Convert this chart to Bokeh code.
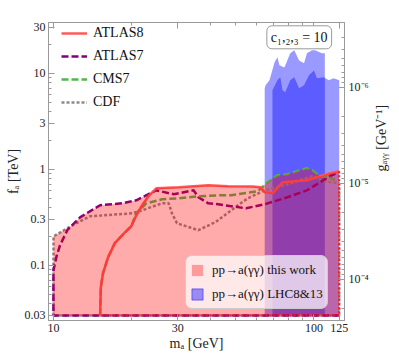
import math
import numpy as np
from bokeh.plotting import figure
from bokeh.models import (Range1d, LogAxis, LogScale, FixedTicker, CustomJSTickFormatter,
                          Legend, LegendItem, Label)
from bokeh.embed import file_html
from bokeh.resources import INLINE

# ---------------- data (m_a in GeV, f_a in TeV) ----------------
atlas8_m = [15.1, 15.2, 15.5, 16.2, 17.2, 18.7, 19.9, 20.8, 21.9, 23.3, 24.8, 30.3, 39.3,
            46.8, 58.2, 62.4, 64.7, 69.3, 75.7, 94.0, 115.0, 125.0]
atlas8_f = [0.03, 0.059, 0.083, 0.121, 0.170, 0.216, 0.255, 0.332, 0.422, 0.536, 0.634, 0.649,
            0.681, 0.665, 0.660, 0.649, 0.576, 0.562, 0.732, 0.768, 0.909, 0.953]

atlas7_m = [10.0, 10.0, 10.3, 10.6, 11.3, 12.65, 15.1, 18.4, 20.8, 24.8, 29.0, 34.5, 36.0,
            39.3, 42.9, 54.8, 64.7, 79.0, 94.0, 115.0, 122.0]
atlas7_f = [0.03, 0.089, 0.127, 0.162, 0.232, 0.316, 0.422, 0.442, 0.475, 0.604, 0.549, 0.604,
            0.511, 0.442, 0.432, 0.392, 0.432, 0.511, 0.604, 0.846, 0.909]

cms7_m = [15.1, 15.2, 15.5, 16.2, 17.2, 18.7, 19.9, 20.8, 22.7, 26.1, 30.3, 36.0, 42.9, 48.1,
          60.8, 66.4, 72.4, 79.0, 94.0, 98.3, 105.4, 115.0, 120.2]
cms7_f = [0.03, 0.059, 0.083, 0.121, 0.170, 0.216, 0.255, 0.348, 0.442, 0.487, 0.499, 0.523,
          0.536, 0.536, 0.590, 0.732, 0.866, 0.887, 1.024, 0.976, 0.846, 0.825, 0.768]

cdf_m = [10.0, 10.0, 11.8, 13.8, 20.1, 21.9, 26.1, 27.7, 28.5, 29.8, 36.0, 41.8, 48.1, 55.7,
         64.7, 79.0, 98.3, 110.1, 125.0]
cdf_f = [0.03, 0.2, 0.261, 0.324, 0.348, 0.374, 0.442, 0.442, 0.348, 0.274, 0.232, 0.281,
         0.374, 0.499, 0.604, 0.698, 0.846, 0.750, 0.715]

# LHC 8 & 13 TeV diphoton bounds (upper edges, two overlapping bands)
lhc_a_m = [64.7, 65.2, 67.5, 70.6, 72.4, 73.7, 77.0, 81.1, 84.0, 87.7, 91.6, 94.0, 98.3,
           100.9, 107.2, 110.1]
lhc_a_f = [7.0, 7.5, 8.45, 13.0, 14.7, 12.1, 11.5, 16.2, 17.4, 13.6, 12.7, 16.2, 17.4,
           17.4, 16.2, 16.2]
lhc_b_m = [69.3, 72.4, 74.3, 75.7, 77.6, 81.1, 84.0, 87.7, 91.6, 95.7, 100.0, 102.7, 109.1,
           114.0, 119.0, 125.0]
lhc_b_f = [6.65, 8.45, 9.09, 6.65, 6.34, 8.45, 9.09, 6.98, 7.5, 9.53, 10.7, 8.87, 9.09,
           8.45, 8.87, 8.45]

F_BOTTOM = 0.03           # lower edge of the scanned region [TeV]
M_LO, M_HI = 10.0, 125.0  # mass range of the scan [GeV]
G_PER_FA = 7.15e-6        # g_agg [GeV^-1] times f_a [TeV]

X_MIN, X_MAX = 9.57, 131.0
Y_MIN, Y_MAX = 0.0266, 33.8

x_major = [10, 30, 100, 125]
x_minor = [20, 40, 50, 60, 70, 80, 90]
y_major = [0.03, 0.1, 0.3, 1, 3, 10, 30]
y_minor = [0.04, 0.05, 0.06, 0.07, 0.08, 0.09, 0.2, 0.4, 0.5, 0.6, 0.7, 0.8, 0.9,
           2, 4, 5, 6, 7, 8, 9, 20]
g_major = [1e-6, 1e-5, 1e-4]
g_minor = [3e-7, 4e-7, 5e-7, 6e-7, 7e-7, 8e-7, 9e-7, 2e-6, 3e-6, 4e-6, 5e-6, 6e-6, 7e-6,
           8e-6, 9e-6, 2e-5, 3e-5, 4e-5, 5e-5, 6e-5, 7e-5, 8e-5, 9e-5, 2e-4]

# ---------------- envelope of all bounds ("this work") ----------------
def log_interp(mq, m, f):
    return np.exp(np.interp(np.log(mq), np.log(m), np.log(f), left=-np.inf, right=-np.inf))

grid = np.unique(np.concatenate([np.geomspace(M_LO, M_HI, 600), atlas8_m, atlas7_m[1:],
                                 cms7_m, cdf_m[1:]]))
grid = grid[(grid >= M_LO) & (grid <= M_HI)]
env = np.max(np.vstack([log_interp(grid, atlas8_m, atlas8_f),
                        log_interp(grid, atlas7_m[1:], atlas7_f[1:]),
                        log_interp(grid, cms7_m, cms7_f),
                        log_interp(grid, cdf_m[1:], cdf_f[1:])]), axis=0)
fill_x = [M_LO] + list(grid) + [M_HI]
fill_y = [F_BOTTOM] + list(env) + [F_BOTTOM]

# ---------------- figure ----------------
SERIF = "Liberation Serif"
FRAME = "#9a9a9a"

p = figure(width=399, height=360, x_axis_type="log", y_axis_type="log",
           x_range=Range1d(X_MIN, X_MAX), y_range=Range1d(Y_MIN, Y_MAX),
           output_backend="svg", toolbar_location=None,
           min_border_left=48, min_border_right=51, min_border_top=22, min_border_bottom=40)
p.grid.visible = False
p.outline_line_color = FRAME
p.background_fill_color = "white"

p.extra_y_ranges = {"g": Range1d(G_PER_FA / Y_MIN, G_PER_FA / Y_MAX)}
p.extra_y_scales = {"g": LogScale()}

def style_axis(ax):
    ax.axis_line_color = FRAME
    ax.major_tick_line_color = FRAME
    ax.minor_tick_line_color = FRAME
    ax.major_tick_in = 6
    ax.major_tick_out = 0
    ax.minor_tick_in = 3
    ax.minor_tick_out = 0
    ax.major_label_text_font = SERIF
    ax.major_label_text_font_size = "12px"
    ax.major_label_text_color = "#222222"
    ax.axis_label_text_font = SERIF
    ax.axis_label_text_font_size = "14px"
    ax.axis_label_text_font_style = "normal"
    ax.axis_label_text_color = "#222222"

xb = p.xaxis[0]
xb.ticker = FixedTicker(ticks=x_major, minor_ticks=x_minor)
xb.formatter = CustomJSTickFormatter(code="return tick.toString();")
xb.axis_label = "mₐ [GeV]"
xb.major_label_standoff = 3
xb.axis_label_standoff = 1
style_axis(xb)

yl = p.yaxis[0]
yl.ticker = FixedTicker(ticks=y_major, minor_ticks=y_minor)
yl.formatter = CustomJSTickFormatter(code="return tick.toString();")
yl.axis_label = "fₐ [TeV]"
yl.major_label_standoff = 3
yl.axis_label_standoff = 1
style_axis(yl)

xt = LogAxis(ticker=FixedTicker(ticks=x_major, minor_ticks=x_minor),
             formatter=CustomJSTickFormatter(code="return '';"))
style_axis(xt)
xt.major_label_standoff = 0
p.add_layout(xt, "above")

sup_code = """
const e = Math.round(Math.log10(tick));
const sup = {"-": "\\u207b", "0": "\\u2070", "1": "\\u00b9", "2": "\\u00b2", "3": "\\u00b3",
             "4": "\\u2074", "5": "\\u2075", "6": "\\u2076", "7": "\\u2077", "8": "\\u2078", "9": "\\u2079"};
return "10" + String(e).split("").map(c => sup[c]).join("");
"""
yr = LogAxis(y_range_name="g", ticker=FixedTicker(ticks=g_major, minor_ticks=g_minor),
             formatter=CustomJSTickFormatter(code=sup_code))
style_axis(yr)
yr.major_label_standoff = 4
yr.axis_label = "gₐᵧᵧ [GeV⁻¹]"
yr.axis_label_standoff = 10
if "axis_label_orientation" in type(yr).properties():
    yr.axis_label_orientation = math.pi / 2
p.add_layout(yr, "right")

# ---------------- glyphs ----------------
BLUE_ALPHA = 0.4
r_lhc_a = p.patch([lhc_a_m[0]] + lhc_a_m + [lhc_a_m[-1]], [F_BOTTOM] + lhc_a_f + [F_BOTTOM],
                  fill_color="blue", fill_alpha=BLUE_ALPHA, line_alpha=0)
r_lhc_b = p.patch([lhc_b_m[0]] + lhc_b_m + [lhc_b_m[-1]], [F_BOTTOM] + lhc_b_f + [F_BOTTOM],
                  fill_color="blue", fill_alpha=BLUE_ALPHA, line_alpha=0)

C_A8, C_A7, C_CMS, C_CDF = "#ff5a5a", "#800080", "#4db84d", "#8c8c8c"
LW = 2.5

r_cdf = p.line(cdf_m + [M_HI, cdf_m[0]], cdf_f + [F_BOTTOM, F_BOTTOM],
               line_color=C_CDF, line_width=LW, line_dash="3 2")
r_a7 = p.line([M_HI] + atlas7_m, [F_BOTTOM] + atlas7_f,
              line_color=C_A7, line_width=LW, line_dash="7 3")
r_cms = p.line(cms7_m, cms7_f, line_color=C_CMS, line_width=LW, line_dash="7 3")
r_a8 = p.line(atlas8_m, atlas8_f, line_color=C_A8, line_width=LW)
p.line([atlas8_m[-1], atlas8_m[-1], atlas8_m[0]], [atlas8_f[-1], F_BOTTOM, F_BOTTOM],
       line_color="#ff2020", line_width=2, line_dash="2 2")

r_work = p.patch(fill_x, fill_y, fill_color="red", fill_alpha=0.33, line_alpha=0)

# legend-only glyph with an outline (NaN data, draws nothing in the plot)
d_lhc = p.patch([np.nan], [np.nan], fill_color="blue", fill_alpha=BLUE_ALPHA,
                line_color="blue", line_alpha=0.45, line_width=1)

leg1 = Legend(items=[LegendItem(label="ATLAS8", renderers=[r_a8]),
                     LegendItem(label="ATLAS7", renderers=[r_a7]),
                     LegendItem(label="CMS7", renderers=[r_cms]),
                     LegendItem(label="CDF", renderers=[r_cdf])],
              location=(13, 208), border_line_alpha=0, background_fill_alpha=0,
              label_text_font=SERIF, label_text_font_size="14px", label_text_color="#111111",
              glyph_width=26, glyph_height=20, label_height=20, spacing=3, padding=0,
              margin=0, label_standoff=6)
p.add_layout(leg1)

leg2 = Legend(items=[LegendItem(label="pp→a(γγ) this work", renderers=[r_work]),
                     LegendItem(label="pp→a(γγ) LHC8&13", renderers=[d_lhc])],
              location=(137, 11), border_line_color="#cccccc", border_line_alpha=1,
              background_fill_color="white", background_fill_alpha=0.72,
              label_text_font=SERIF, label_text_font_size="13px", label_text_color="#111111",
              glyph_width=14, glyph_height=14, label_height=20, spacing=4, padding=4,
              margin=0, label_standoff=8)
if "border_radius" in Legend.properties():
    leg2.border_radius = 7
p.add_layout(leg2)

p.add_layout(Label(x=87.8, y=23.7, text="c₁,₂,₃ = 10", text_align="center",
                   text_baseline="middle", text_font=SERIF, text_font_size="14px",
                   text_color="#111111", background_fill_color="white",
                   border_line_color="#999999", border_radius=5, padding=4))

open("out.html", "w").write(file_html(p, INLINE))
